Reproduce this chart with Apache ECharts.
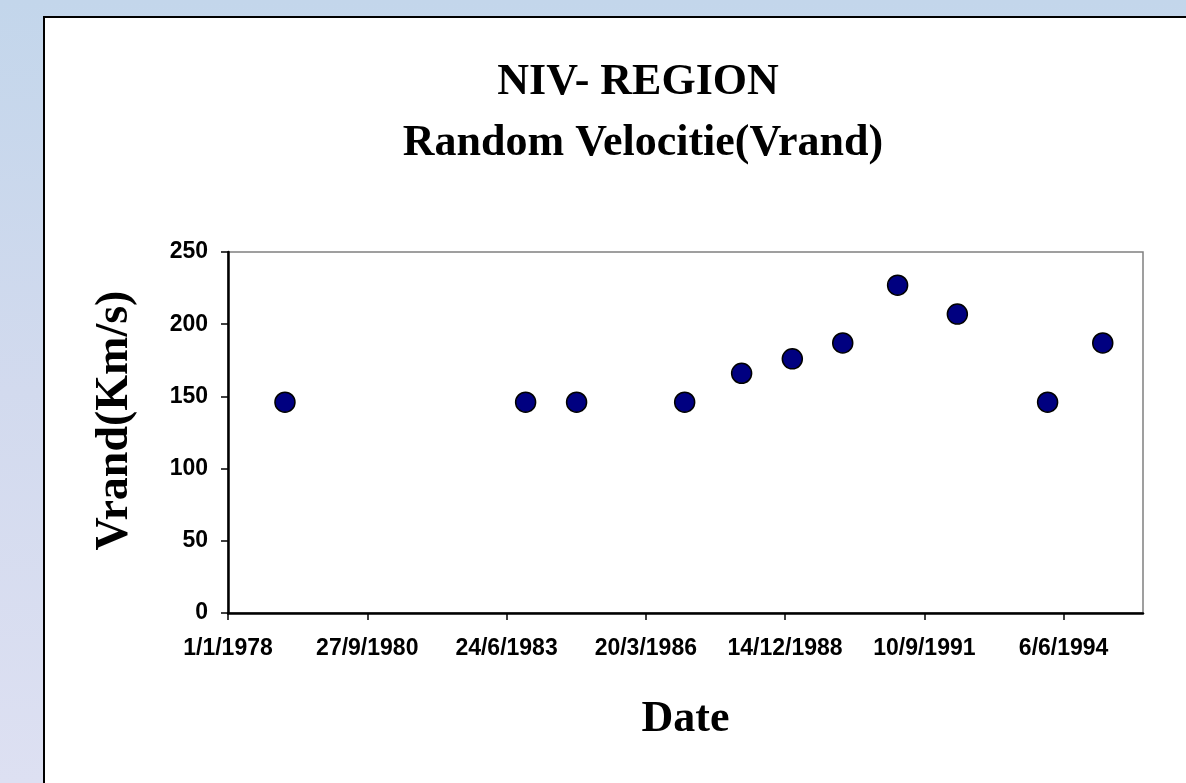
<!DOCTYPE html>
<html>
<head>
<meta charset="UTF-8">
<title>NIV- REGION</title>
<script src="https://cdn.jsdelivr.net/npm/echarts@6/dist/echarts.min.js"></script>
<style>
    html, body {
        margin: 0;
        padding: 0;
        width: 1186px;
        height: 783px;
        overflow: hidden;
        background: linear-gradient(to bottom, #c3d6eb 0%, #d2daee 50%, #dde0f2 100%);
    }
    .panel {
        position: absolute;
        left: 43px;
        top: 16px;
        width: 1200px;
        height: 800px;
        background: #fff;
        border-left: 2px solid #000;
        border-top: 2px solid #000;
    }
    #chart {
        position: absolute;
        left: 0;
        top: 0;
        width: 1186px;
        height: 783px;
    }
</style>
</head>
<body>
<div class="panel"></div>
<div id="chart"></div>
<script>
    // observation dates and random velocities (km/s)
    const dates = ['1979-02-14', '1983-11-08', '1984-11-08', '1986-12-24', '1988-02-06',
                   '1989-02-04', '1990-02-01', '1991-03-02', '1992-05-04', '1994-02-11', '1995-03-14'];
    const vrand = [146, 146, 146, 146, 166, 176, 187, 227, 207, 146, 187];

    // x axis is counted in days from 1/1/1978, ticks every 1000 days
    const startDate = '1978-01-01';
    const tickDays = [0, 1000, 2000, 3000, 4000, 5000, 6000];
    const yTicks = [0, 50, 100, 150, 200, 250];

    const DAY = 86400000;
    const t0 = Date.parse(startDate);
    function toDays(s) { return Math.round((Date.parse(s) - t0) / DAY); }
    function dayLabel(d) {
        const dt = new Date(t0 + d * DAY);
        return dt.getUTCDate() + '/' + (dt.getUTCMonth() + 1) + '/' + dt.getUTCFullYear();
    }

    const points = dates.map((d, i) => [toDays(d), vrand[i]]);

    const serif = '"Liberation Serif", "Times New Roman", serif';
    const sans = '"Liberation Sans", Arial, sans-serif';

    const chart = echarts.init(document.getElementById('chart'));
    chart.setOption({
        animation: false,
        title: [
            {
                text: 'NIV- REGION',
                left: 633, top: 56, textAlign: 'center',
                textStyle: { fontFamily: serif, fontWeight: 'bold', fontSize: 44, color: '#000' }
            },
            {
                text: 'Random Velocitie(Vrand)',
                left: 638, top: 117, textAlign: 'center',
                textStyle: { fontFamily: serif, fontWeight: 'bold', fontSize: 44, color: '#000' }
            }
        ],
        grid: {
            left: 228, right: 43, top: 252, bottom: 170,
            show: true,
            borderColor: '#808080',
            borderWidth: 1.5,
            backgroundColor: 'transparent'
        },
        xAxis: {
            type: 'value',
            min: 0,
            max: 6570,
            interval: 1000,
            name: 'Date',
            nameLocation: 'middle',
            nameGap: 85,
            nameTextStyle: { fontFamily: serif, fontWeight: 'bold', fontSize: 44, color: '#000' },
            axisLine: { lineStyle: { color: '#000', width: 2.5 } },
            axisTick: { inside: false, length: 7, lineStyle: { color: '#000', width: 1.5 }, customValues: tickDays },
            axisLabel: {
                customValues: tickDays,
                formatter: v => dayLabel(v),
                margin: 24,
                fontFamily: sans, fontWeight: 'bold', fontSize: 23, color: '#000'
            },
            splitLine: { show: false }
        },
        yAxis: {
            type: 'value',
            min: yTicks[0],
            max: yTicks[yTicks.length - 1],
            interval: 50,
            name: 'Vrand(Km/s)',
            nameLocation: 'middle',
            nameGap: 90,
            nameRotate: 90,
            nameTextStyle: {
                fontFamily: serif, fontWeight: 'bold', fontSize: 46, color: '#000',
                padding: [0, 0, 0, 24]
            },
            axisLine: { show: true, lineStyle: { color: '#000', width: 2.5 } },
            axisTick: { show: true, inside: false, length: 7, lineStyle: { color: '#000', width: 1.5 } },
            axisLabel: {
                margin: 20,
                fontFamily: sans, fontWeight: 'bold', fontSize: 23, color: '#000'
            },
            splitLine: { show: false }
        },
        series: [{
            type: 'scatter',
            data: points,
            symbol: 'circle',
            symbolSize: 20,
            itemStyle: { color: '#000080', opacity: 1, borderColor: '#000', borderWidth: 1.5 }
        }]
    });
</script>
</body>
</html>
